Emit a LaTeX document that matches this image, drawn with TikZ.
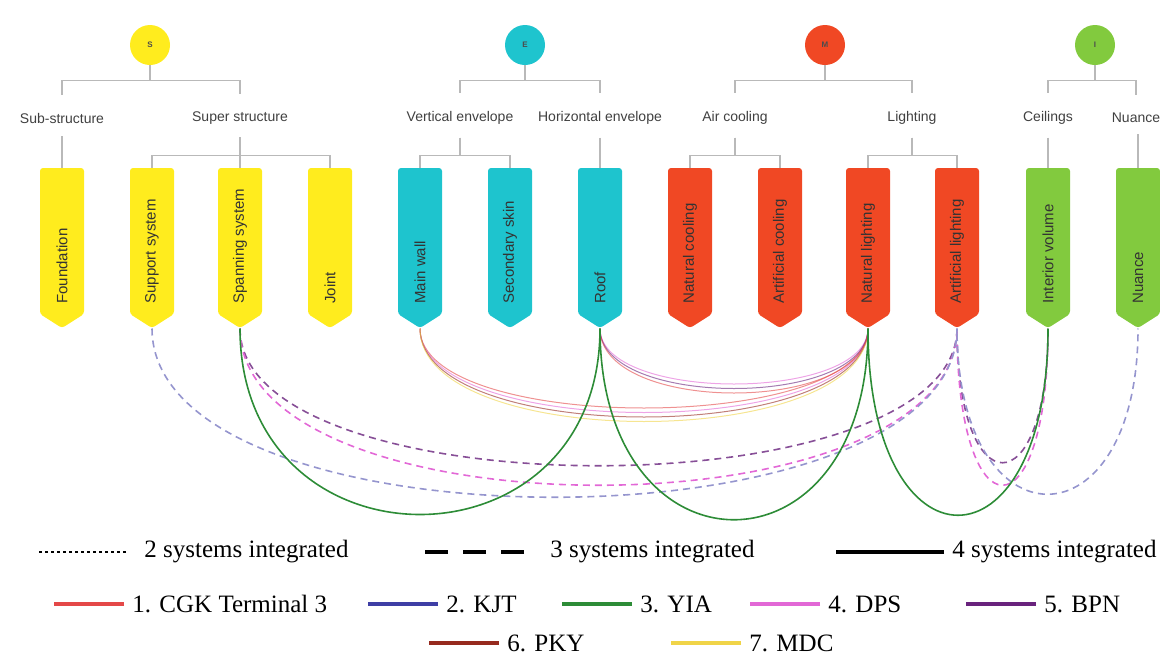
\documentclass[tikz,border=0pt]{standalone}
\usepackage{fontspec}
\setmainfont{Liberation Serif}
\setsansfont{Liberation Sans}
\usetikzlibrary{shapes.symbols}

\definecolor{ylw}{RGB}{255,236,30}
\definecolor{cyn}{RGB}{30,196,206}
\definecolor{rd}{RGB}{240,72,36}
\definecolor{grn}{RGB}{130,202,62}
\definecolor{cgk}{RGB}{228,72,72}
\definecolor{kjt}{RGB}{62,62,165}
\definecolor{yia}{RGB}{45,140,55}
\definecolor{dps}{RGB}{226,104,214}
\definecolor{bpn}{RGB}{105,35,125}
\definecolor{pky}{RGB}{150,42,30}
\definecolor{mdc}{RGB}{240,212,72}

\begin{document}
\begin{tikzpicture}[
    x = 0.5pt, y = -0.5pt,
    topic/.style = {circle, minimum size=20pt, inner sep=0pt, text=black!70,
        font=\sffamily\bfseries\fontsize{4}{4}\selectfont},
    group/.style = {font=\sffamily\fontsize{7}{8}\selectfont, text=black!75},
    tagbox/.style = {signal, signal to=south, signal pointer angle=115,
        minimum width=22pt, minimum height=73pt, inner sep=0pt, rounded corners=1.5pt},
    tagtext/.style = {font=\sffamily\fontsize{7.5}{8}\selectfont, text=black!80,
        rotate=90, anchor=west, inner sep=0pt},
    treeline/.style = {draw=gray!55, line width=0.6pt},
    link/.style = {line width=0.8pt},
    bundle/.style = {line width=0.5pt, opacity=0.6},
    trio/.style = {line width=0.8pt, dash pattern=on 3.5pt off 2.5pt},
    legend/.style = {font=\fontsize{12.5}{14}\selectfont, anchor=west, inner sep=0pt},
    key/.style = {line width=2pt}]

\useasboundingbox (0,0) rectangle (1160,655);

% the four building systems
\node[topic, fill=ylw] (S) at (150,45) {S};
\node[topic, fill=cyn] (E) at (525,45) {E};
\node[topic, fill=rd]  (M) at (825,45) {M};
\node[topic, fill=grn] (I) at (1095,45) {I};

\node[group] (substr)   at (62,118)   {Sub-structure};
\node[group] (superstr) at (240,118)  {Super structure};
\node[group] (vert)     at (460,118)  {Vertical envelope};
\node[group] (horiz)    at (600,118)  {Horizontal envelope};
\node[group] (aircool)  at (735,118)  {Air cooling};
\node[group] (light)    at (912,118)  {Lighting};
\node[group] (ceil)     at (1048,118) {Ceilings};
\node[group] (nuance)   at (1136,118) {Nuance};

% components
\foreach \x/\n/\c/\t in {62/found/ylw/Foundation, 152/support/ylw/Support system,
    240/span/ylw/Spanning system, 330/joint/ylw/Joint, 420/mainwall/cyn/Main wall,
    510/skin/cyn/Secondary skin, 600/roof/cyn/Roof, 690/natcool/rd/Natural cooling,
    780/artcool/rd/Artificial cooling, 868/natlight/rd/Natural lighting,
    957/artlight/rd/Artificial lighting, 1048/intvol/grn/Interior volume,
    1138/nuancet/grn/Nuance}
{
    \node[tagbox, fill=\c] (\n) at (\x,241) {};
    \node[tagtext] (\n-t) at (\x,304) {\t};
}

% tree
\draw[treeline] (S.south) -- ++(0,15) -| ([yshift=5.5pt]substr.north);
\draw[treeline] (S.south) -- ++(0,15) -| ([yshift=5.5pt]superstr.north);
\draw[treeline] ([yshift=-3pt]substr.south) -- (found.north);
\draw[treeline] ([yshift=-3pt]superstr.south) -- ++(0,18) -| (support.north);
\draw[treeline] ([yshift=-3pt]superstr.south) -- ++(0,18) -| (span.north);
\draw[treeline] ([yshift=-3pt]superstr.south) -- ++(0,18) -| (joint.north);

\draw[treeline] (E.south) -- ++(0,15) -| ([yshift=5.5pt]vert.north);
\draw[treeline] (E.south) -- ++(0,15) -| ([yshift=5.5pt]horiz.north);
\draw[treeline] ([yshift=-3pt]vert.south) -- ++(0,18) -| (mainwall.north);
\draw[treeline] ([yshift=-3pt]vert.south) -- ++(0,18) -| (skin.north);
\draw[treeline] ([yshift=-3pt]horiz.south) -- (roof.north);

\draw[treeline] (M.south) -- ++(0,15) -| ([yshift=5.5pt]aircool.north);
\draw[treeline] (M.south) -- ++(0,15) -| ([yshift=5.5pt]light.north);
\draw[treeline] ([yshift=-3pt]aircool.south) -- ++(0,18) -| (natcool.north);
\draw[treeline] ([yshift=-3pt]aircool.south) -- ++(0,18) -| (artcool.north);
\draw[treeline] ([yshift=-3pt]light.south) -- ++(0,18) -| (natlight.north);
\draw[treeline] ([yshift=-3pt]light.south) -- ++(0,18) -| (artlight.north);

\draw[treeline] (I.south) -- ++(0,15) -| ([yshift=5.5pt]ceil.north);
\draw[treeline] (I.south) -- ++(0,15) -| ([yshift=5.5pt]nuance.north);
\draw[treeline] ([yshift=-3pt]ceil.south) -- (intvol.north);
\draw[treeline] (nuancet.north) -- ++(0,-34);

% pairs
\foreach \h/\c in {106/cgk, 112/dps, 118/pky, 124/mdc}
    \draw[bundle, \c] (mainwall.south) .. controls +(0,\h) and +(0,\h) .. (natlight.south);
\foreach \h/\c in {74/dps, 80/bpn, 86/cgk}
    \draw[bundle, \c] (roof.south) .. controls +(0,\h) and +(0,\h) .. (natlight.south);

% 3 systems
\draw[trio, bpn!80] (span.south) .. controls +(0,183) and +(0,183) .. (artlight.south)
    .. controls +(0,179) and +(0,179) .. (intvol.south);
\draw[trio, dps] (span.south) .. controls +(0,209) and +(0,209) .. (artlight.south)
    .. controls +(0,209) and +(0,209) .. (intvol.south);
\draw[trio, kjt!55] (support.south) .. controls +(0,225) and +(0,225) .. (artlight.south)
    .. controls +(0,221) and +(0,221) .. (nuancet.south);

% 4 systems
\draw[link, yia] (span.south) .. controls +(0,248) and +(0,248) .. (roof.south);
\draw[link, yia] (roof.south) .. controls +(0,255) and +(0,255) .. (natlight.south);
\draw[link, yia] (natlight.south) .. controls +(0,249) and +(0,249) .. (intvol.south);

% legend
\node[legend] (two)   at (144,552) {2 systems integrated};
\node[legend] (three) at (550,552) {3 systems integrated};
\node[legend] (four)  at (952,552) {4 systems integrated};
\draw[line width=1.3pt, dash pattern=on 1.3pt off 1.7pt] ([xshift=-9pt]two.west) -- ++(-88,0);
\draw[key, dash pattern=on 11.5pt off 7.5pt] ([xshift=-13pt]three.west) -- ++(-99,0);
\draw[key] ([xshift=-4pt]four.west) -- ++(-108,0);

\node[legend] (cgkl) at (132,604)  {1. CGK Terminal 3};
\node[legend] (kjtl) at (446,604)  {2. KJT};
\node[legend] (yial) at (640,604)  {3. YIA};
\node[legend] (dpsl) at (828,604)  {4. DPS};
\node[legend] (bpnl) at (1044,604) {5. BPN};
\node[legend] (pkyl) at (507,643)  {6. PKY};
\node[legend] (mdcl) at (749,643)  {7. MDC};
\foreach \n/\c in {cgkl/cgk, kjtl/kjt, yial/yia, dpsl/dps, bpnl/bpn, pkyl/pky, mdcl/mdc}
    \draw[key, \c] ([xshift=-4pt]\n.west) -- ++(-70,0);
\end{tikzpicture}
\end{document}
